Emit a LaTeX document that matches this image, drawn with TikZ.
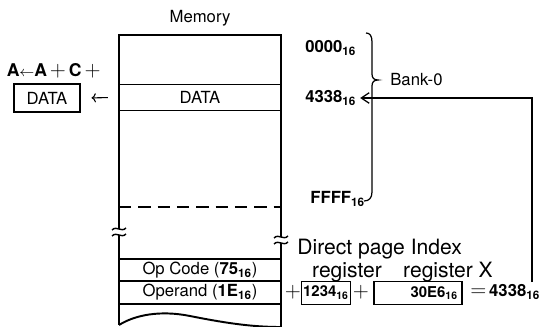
\documentclass[tikz,border=0pt]{standalone}
\usepackage{fontspec}
\setmainfont{TeX Gyre Heros}
\usetikzlibrary{arrows.meta, positioning}
\newcommand{\hexnum}[1]{\textbf{#1\textsubscript{16}}}

\begin{document}
\begin{tikzpicture}[x=0.02cm, y=-0.02cm,
    every node/.style={font=\fontsize{9.5}{11}\selectfont},
    row/.style={draw, line width=0.6pt, minimum width=3.24cm, inner sep=0pt},
    regbox/.style={draw, line width=0.8pt, inner sep=0pt, font=\fontsize{8.5}{10}\selectfont},
    bigtxt/.style={font=\fontsize{12}{13}\selectfont},
    addr/.style={anchor=west, inner sep=0pt, font=\fontsize{9.5}{11}\selectfont},
    oper/.style={inner sep=0pt, font=\fontsize{13}{14}\selectfont}]

    \useasboundingbox (0,0) rectangle (543,327);

    % =================================================================
    % MEMORY COLUMN
    % =================================================================
    \node (memlabel) at (200,18) {Memory};

    % rows
    \node[row, minimum height=0.52cm] (mdata) at (200,97.5) {DATA};
    \node[row, minimum height=0.44cm] (opcode) at (200,270) {Op Code (\hexnum{75})};
    \node[row, minimum height=0.46cm] (operand) at (200,292.5) {Operand (\hexnum{1E})};

    % outline
    \draw[line width=1.1pt] (119,325) -- (119,35) -- (281,35) -- (281,327);
    \draw[line width=1.1pt] (119,325) .. controls (135,315) and (160,310) .. (190,316)
        .. controls (230,324) and (255,327) .. (281,327);

    % end of bank-0
    \draw[line width=0.7pt, dash pattern=on 7pt off 4pt] (119,207) -- (281,207);

    % break marks
    \foreach \bx/\by in {119/232, 281/240} {
        \fill[white] (\bx-6,\by-3) rectangle (\bx+6,\by+3);
        \draw[line width=0.8pt] (\bx-7,\by-2) .. controls (\bx-2,\by-7) and (\bx+2,\by+1) .. (\bx+7,\by-4);
        \draw[line width=0.8pt] (\bx-7,\by+4) .. controls (\bx-2,\by-1) and (\bx+2,\by+7) .. (\bx+7,\by+2);
    }

    % =================================================================
    % ACCUMULATOR SIDE
    % =================================================================
    \node[anchor=east, inner sep=0pt, font=\bfseries\fontsize{10}{11}\selectfont] (accum) at (101,71)
        {A{\fontsize{8}{9}\selectfont$\leftarrow$}A\,{\fontsize{13}{14}\selectfont$+$}\,C\,{\fontsize{13}{14}\selectfont$+$}};
    \node[draw, line width=1.1pt, minimum width=1.32cm, minimum height=0.56cm, inner sep=0pt] (dbox) at (47,98) {DATA};
    \draw[-{To[length=2.5pt]}, line width=0.6pt, shorten >=6pt, shorten <=6pt] (mdata.west) -- (dbox.east);

    % =================================================================
    % ADDRESSES AND BANK
    % =================================================================
    \node[addr] (a0000) at (305,48) {\hexnum{0000}};
    \node[addr] (a4338) at (305,98) {\hexnum{4338}};
    \node[addr] (affff) at (310,199) {\hexnum{FFFF}};
    \node[anchor=west, inner sep=0pt] (bank) at (390,80) {Bank-0};

    \draw[line width=0.7pt] (366,33) .. controls (370,33) and (372,36) .. (372,42) -- (372,74)
        .. controls (372,78) and (374,80) .. (378,80) .. controls (374,80) and (372,82) .. (372,86)
        -- (372,192) .. controls (372,198) and (369,201) .. (364,201);

    % =================================================================
    % ADDRESS CALCULATION
    % =================================================================
    \node[bigtxt, anchor=west, inner sep=0pt] (dplabel) at (297,249) {Direct page Index};
    \node[bigtxt, inner sep=0pt] (reg1) at (347,272) {register};
    \node[bigtxt, inner sep=0pt] (reg2) at (448,272) {register X};

    \node[oper] (plus1) at (293,292) {$+$};
    \node[regbox, minimum width=0.98cm, minimum height=0.46cm] (dpreg) at (326,293) {\hexnum{1234}};
    \node[oper] (plus2) at (361,292) {$+$};
    \node[regbox, minimum width=1.76cm, minimum height=0.46cm, text width=1.6cm, align=right] (xreg) at (418,293) {\hexnum{30E6}};
    \node[anchor=west, inner sep=0pt, font=\fontsize{9.5}{11}\selectfont] (sum) at (470,292)
        {{\fontsize{13}{14}\selectfont$=$}\,\hexnum{4338}};

    \coordinate (bend) at (532,98);
    \draw[-{Straight Barb[length=4.5pt, width=6pt]}, line width=0.7pt]
        (bend |- 0,282) -- (bend) -- ([xshift=2pt]a4338.east);

\end{tikzpicture}
\end{document}
